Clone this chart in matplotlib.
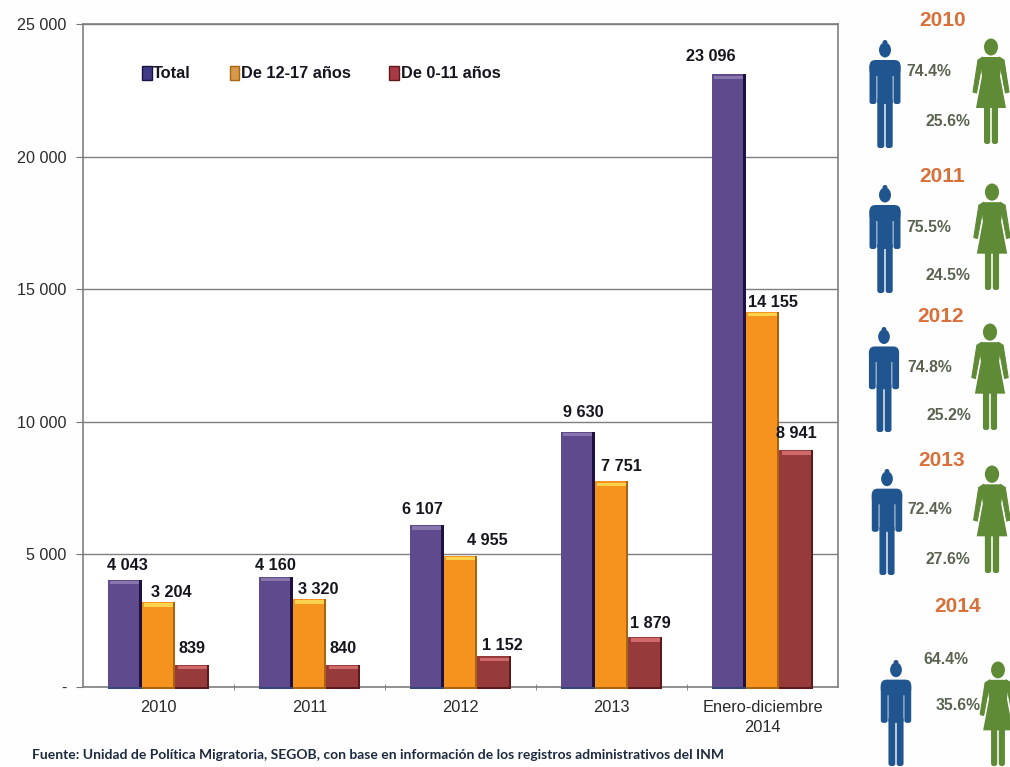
import matplotlib
matplotlib.use("Agg")
import matplotlib.pyplot as plt
from matplotlib.patches import Ellipse, FancyBboxPatch, Polygon, Patch

plt.rcParams['font.family'] = ['Liberation Sans', 'DejaVu Sans']

categories = ['2010', '2011', '2012', '2013', 'Enero-diciembre\n2014']
total = [4043, 4160, 6107, 9630, 23096]
de_12_17 = [3204, 3320, 4955, 7751, 14155]
de_0_11 = [839, 840, 1152, 1879, 8941]
yticks = [0, 5000, 10000, 15000, 20000, 25000]
ylabels = ['-', '5 000', '10 000', '15 000', '20 000', '25 000']

years = ['2010', '2011', '2012', '2013', '2014']
pct_men = ['74.4%', '75.5%', '74.8%', '72.4%', '64.4%']
pct_women = ['25.6%', '24.5%', '25.2%', '27.6%', '35.6%']

W, H = 1010, 767
fig = plt.figure(figsize=(W / 100, H / 100), dpi=100, facecolor='#fefefe')
ax = fig.add_axes([83 / W, 1 - 687 / H, 755 / W, 663 / H])
ax.set_facecolor('white')

bw = 0.225
colors = ['#5e4a8c', '#f6921e', '#963a3c']
darks = ['#1c1140', '#a9640f', '#5c1a1c']
lights = ['#8877ad', '#fbd34f', '#d0696a']
series = [total, de_12_17, de_0_11]
# label offsets from top centre of each bar, in pixels
label_dx = [[3, 0, -4, 6, -18], [13, 9, 27, 10, 10], [0, 0, 8, 5, 0]]
label_dy = [[14, 11, 16, 19, 18], [10, 9, 15, 15, 9], [16, 16, 11, 14, 16]]

ax.set_axisbelow(True)
ax.grid(axis='y', color='#7f7f7f', lw=1)
for s, vals in enumerate(series):
    xs = [i + (s - 1) * bw for i in range(len(vals))]
    ax.bar(xs, vals, bw, color=colors[s], zorder=3)
    # bevel: dark right side, light top strip
    ax.bar([x + bw * 0.46 for x in xs], vals, bw * 0.08, color=darks[s], zorder=4)
    strip = [25000 * 0.005] * len(vals)
    ax.bar(xs, strip, bw * 0.88, bottom=[v - t * 1.4 for v, t in zip(vals, strip)],
           color=lights[s], zorder=5, align='center')
    ax.bar(xs, [-90] * len(vals), bw, color='#34467a' if s == 0 else darks[s],
           zorder=5, clip_on=False)
    for i, v in enumerate(vals):
        ax.annotate(f'{v:,}'.replace(',', ' '), (xs[i], v),
                    xytext=(label_dx[s][i] * 0.72, label_dy[s][i] * 0.72),
                    textcoords='offset points', ha='center', va='center',
                    fontsize=11.7, fontweight='bold', color='#15151f', zorder=6)

ax.set_xlim(-0.5, 4.5)
ax.set_ylim(0, 25000)
ax.set_xticks(range(5))
ax.set_xticklabels(categories, fontsize=11.8, color='#2a2a2a', linespacing=1.5)
ax.set_xticks([0.5, 1.5, 2.5, 3.5], minor=True)
ax.tick_params(axis='x', which='major', length=0, pad=9)
ax.tick_params(axis='x', which='minor', length=5, color='#777777', direction='inout')
ax.set_yticks(yticks)
ax.set_yticklabels(ylabels, fontsize=11.6, color='#2a2a2a')
ax.tick_params(axis='y', length=5, color='#777777', pad=7)
for sp in ax.spines.values():
    sp.set_color('#7f7f7f')
    sp.set_linewidth(1.2)

handles = [Patch(facecolor=c, edgecolor=d) for c, d in zip(['#3f3a86', '#d59a4a', '#a83a45'], darks)]
ax.legend(handles, ['Total', 'De 12-17 años', 'De 0-11 años'], ncol=3, frameon=False,
          loc='center left', bbox_to_anchor=(0.067, 0.925), handlelength=0.6,
          handleheight=0.9, handletextpad=0.1, columnspacing=2.35,
          prop={'size': 11.8, 'weight': 'bold'}, labelcolor='#15151f', borderpad=0)

fig.text(32 / W, 1 - 755 / H,
         'Fuente: Unidad de Política Migratoria, SEGOB, con base en información de los registros administrativos del INM',
         fontsize=10, fontweight='bold', family=['Lato', 'DejaVu Sans'],
         color='#1d2a3f', va='center')

# right-hand panel, drawn in image pixels
pan = fig.add_axes([0, 0, 1, 1], facecolor='none')
pan.set_xlim(0, W)
pan.set_ylim(H, 0)
pan.axis('off')
blue = '#20558f'
green = '#5f8a36'


def rbox(x, y, w, h, c, r=2.5):
    pan.add_patch(FancyBboxPatch((x, y), w, h, boxstyle=f'round,pad=0,rounding_size={r}',
                                 fc=c, ec='none'))


def man(cx, top, bottom):
    k = (bottom - top) / 108
    pan.add_patch(Ellipse((cx, top + 10 * k), 12 * k, 15 * k, fc=blue, ec='none'))
    pan.add_patch(Ellipse((cx, top + 2.5 * k), 5 * k, 5 * k, fc=blue, ec='none'))
    rbox(cx - 15.5 * k, top + 20 * k, 31 * k, 16 * k, blue, 6)
    rbox(cx - 15.5 * k, top + 24 * k, 7 * k, 40 * k, blue)
    rbox(cx + 8.5 * k, top + 24 * k, 7 * k, 40 * k, blue)
    rbox(cx - 7.7 * k, top + 24 * k, 15.4 * k, 40 * k, blue)
    rbox(cx - 7.7 * k, top + 58 * k, 7 * k, 50 * k, blue)
    rbox(cx + 0.7 * k, top + 58 * k, 7 * k, 50 * k, blue)


def woman(cx, top, bottom):
    k = (bottom - top) / 106
    pan.add_patch(Ellipse((cx, top + 9 * k), 14 * k, 17 * k, fc=green, ec='none'))
    pan.add_patch(Polygon([(cx - 9 * k, top + 19 * k), (cx + 9 * k, top + 19 * k),
                           (cx + 11 * k, top + 24 * k), (cx + 9 * k, top + 38 * k),
                           (cx + 15 * k, top + 70 * k), (cx - 15 * k, top + 70 * k),
                           (cx - 9 * k, top + 38 * k), (cx - 11 * k, top + 24 * k)],
                          closed=True, fc=green, ec='none'))
    for d in (-1, 1):
        pan.add_patch(Polygon([(cx + d * 8 * k, top + 19 * k), (cx + d * 13 * k, top + 22 * k),
                               (cx + d * 18 * k, top + 54 * k), (cx + d * 14.5 * k, top + 55 * k),
                               (cx + d * 10.5 * k, top + 34 * k)],
                              closed=True, fc=green, ec=green, lw=0.8))
    rbox(cx - 7 * k, top + 66 * k, 6.2 * k, 40 * k, green)
    rbox(cx + 0.8 * k, top + 66 * k, 6.2 * k, 40 * k, green)


year_pos = [(943, 20), (942, 177), (941, 317), (942, 460), (958, 607)]
men_box = [(885, 40, 148), (885, 185, 293), (884, 327, 432), (887, 469, 575), (896, 660, 766)]
women_box = [(991, 38, 144), (992, 183, 290), (990, 323, 430), (992, 465, 573), (998, 661, 766)]
men_txt = [(929, 72), (929, 228), (930, 368), (930, 510), (946, 660)]
women_txt = [(948, 122), (948, 276), (949, 416), (948, 559), (958, 706)]
for i in range(5):
    pan.text(*year_pos[i], years[i], fontsize=15, fontweight='bold', color='#d8703a',
             ha='center', va='center')
    man(*men_box[i])
    woman(*women_box[i])
    pan.text(*men_txt[i], pct_men[i], fontsize=11.3, fontweight='bold', color='#5a6350',
             ha='center', va='center', zorder=5)
    pan.text(*women_txt[i], pct_women[i], fontsize=11.3, fontweight='bold', color='#5a6350',
             ha='center', va='center', zorder=5)

fig.savefig('out.png', dpi=100, facecolor=fig.get_facecolor())
